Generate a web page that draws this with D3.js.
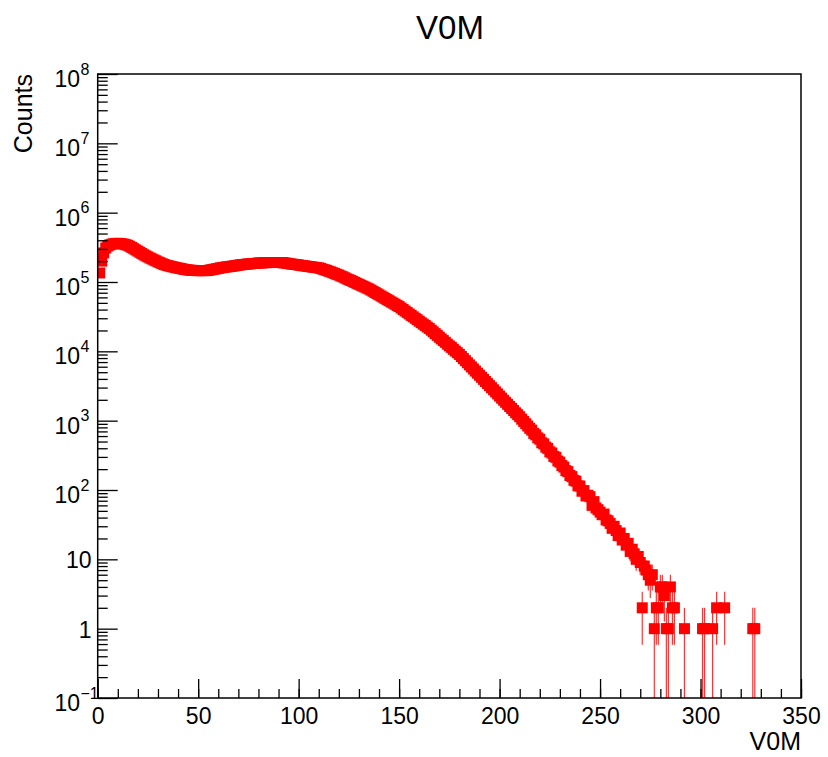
<!DOCTYPE html>
<html>
<head>
<meta charset="utf-8">
<script src="https://cdn.jsdelivr.net/npm/d3@7"></script>
<style>
  body { margin: 0; background: #fff; }
  svg { display: block; }
  text { font-family: "Liberation Sans", Arial, Helvetica, sans-serif; fill: #000; }
</style>
</head>
<body>
<div id="chart"></div>
<script>
// bin contents, one entry per unit bin, bins 0..99
const countsLow = [
  214000, 135000, 200000, 263000, 309000, 331000, 343000, 351000, 357000, 360000,
  361000, 360000, 356000, 352000, 345000, 339000, 327000, 315000, 302000, 290000,
  279000, 268000, 257000, 247000, 238000, 230000, 222000, 215000, 208000, 202000,
  195000, 190000, 184000, 179000, 175000, 172000, 169000, 166000, 164000, 161000,
  159000, 157000, 155000, 152000, 151000, 149000, 148000, 147000, 147000, 146000,
  146000, 146000, 146000, 146000, 146000, 147000, 149000, 151000, 153000, 155000,
  157000, 160000, 161000, 163000, 165000, 166000, 168000, 169000, 171000, 173000,
  175000, 177000, 178000, 179000, 181000, 182000, 183000, 185000, 185000, 186000,
  188000, 188000, 189000, 190000, 190000, 191000, 191000, 191000, 191000, 191000,
  191000, 191000, 190000, 188000, 187000, 185000, 182000, 181000, 179000, 178000
];
// bins 100..199
const countsMid = [
  176000, 174000, 172000, 171000, 169000, 167000, 166000, 164000, 163000, 161000,
  160000, 157000, 153000, 150000, 147000, 143000, 140000, 136000, 133000, 129000,
  126000, 122000, 119000, 115000, 111000, 108000, 105000, 102000, 98600, 95500,
  92700, 89900, 87100, 84500, 81800, 79400, 76400, 73500, 70600, 67900,
  65300, 62800, 60400, 58100, 55800, 53700, 51600, 49700, 47800, 45900,
  44200, 42100, 40100, 38200, 36400, 34700, 33000, 31500, 30000, 28600,
  27200, 25900, 24700, 23600, 22400, 21400, 20200, 19100, 18000, 17000,
  16000, 15100, 14300, 13500, 12700, 12000, 11400, 10700, 10100, 9550,
  9020, 8410, 7850, 7330, 6840, 6380, 5960, 5560, 5190, 4840,
  4520, 4220, 3940, 3670, 3430, 3200, 2990, 2790, 2600, 2430
];
// bins 200..270
const countsHigh = [
  2260, 2110, 1970, 1840, 1720, 1600, 1500, 1400, 1300, 1220,
  1140, 1050, 975, 904, 838, 776, 730, 655, 625, 565,
  540, 480, 462, 415, 398, 355, 342, 305, 296, 262,
  252, 225, 214, 190, 184, 162, 156, 138, 134, 115,
  114, 96, 98, 82, 84, 80, 60, 68, 55, 52,
  48, 44, 45, 37, 36, 33, 28, 30, 26, 22,
  24, 19, 20, 16, 17, 13, 14, 12, 10, 11,
  9
];
// sparse tail, non-empty bins only
const tailBins   = [271, 272, 273, 274, 275, 276, 277, 278, 279, 280, 281, 282, 283, 284, 285, 286, 287, 292, 301, 302, 306, 308, 312, 326, 327];
const tailCounts = [2,   8,   7,   6,   5,   6,   1,   2,   2,   4,   4,   3,   1,   1,   4,   2,   2,   1,   1,   1,   1,   2,   2,   1,   1];

const xMajorTicks = [0, 50, 100, 150, 200, 250, 300, 350];
const yDecades = [-1, 0, 1, 2, 3, 4, 5, 6, 7, 8];

const W = 828, H = 757;
const margin = { top: 74, right: 27, bottom: 59, left: 97.7 };
const markerSize = 11;

// build the histogram table
let data = [];
countsLow.forEach(function (c, i) { data.push({ bin: i, n: c }); });
countsMid.forEach(function (c, i) { data.push({ bin: 100 + i, n: c }); });
countsHigh.forEach(function (c, i) { data.push({ bin: 200 + i, n: c }); });
tailBins.forEach(function (b, i) { data.push({ bin: b, n: tailCounts[i] }); });

const svg = d3.select("#chart").append("svg")
  .attr("width", W).attr("height", H);

const x = d3.scaleLinear().domain([0, 350]).range([margin.left, W - margin.right]);
const y = d3.scaleLog().domain([0.1, 1e8]).range([H - margin.bottom, margin.top]);

svg.append("clipPath").attr("id", "plot")
  .append("rect")
  .attr("x", margin.left).attr("y", margin.top)
  .attr("width", x(350) - margin.left).attr("height", y(0.1) - margin.top);

const g = svg.append("g").attr("clip-path", "url(#plot)");

// error bars, sqrt(N)
g.selectAll(".err")
  .data(data)
  .enter()
  .append("line")
  .attr("x1", function (d) { return x(d.bin); })
  .attr("x2", function (d) { return x(d.bin); })
  .attr("y1", function (d) { return y(d.n + Math.sqrt(d.n)); })
  .attr("y2", function (d) {
    const lo = d.n - Math.sqrt(d.n);
    return lo > 0.1 ? y(lo) : y(0.1) + 2;
  })
  .attr("stroke", "#ff0000")
  .attr("stroke-opacity", 0.8)
  .attr("stroke-width", 1.2);

// square markers
g.selectAll(".mk")
  .data(data)
  .enter()
  .append("rect")
  .attr("x", function (d) { return x(d.bin) - markerSize / 2; })
  .attr("y", function (d) { return y(d.n) - markerSize / 2; })
  .attr("width", markerSize)
  .attr("height", markerSize)
  .attr("fill", "#ff0000");

// X axis ticks
const xMinor = d3.range(0, 351, 10);
svg.append("g")
  .attr("transform", "translate(0," + y(0.1) + ")")
  .call(d3.axisBottom(x).tickValues(xMinor).tickSize(-9).tickFormat(""))
  .call(function (s) { s.select(".domain").remove(); s.selectAll("line").attr("stroke-width", 1.3); });

svg.append("g")
  .attr("transform", "translate(0," + y(0.1) + ")")
  .call(d3.axisBottom(x).tickValues(xMajorTicks).tickSize(-19).tickPadding(10))
  .call(function (s) {
    s.select(".domain").remove();
    s.selectAll("line").attr("stroke-width", 1.3);
    s.selectAll("text")
      .style("font-size", "23px")
      .style("font-family", "'Liberation Sans', Arial, sans-serif");
  });

// Y axis ticks
let yMinor = [];
yDecades.slice(0, -1).forEach(function (p) {
  for (let k = 2; k <= 9; k++) yMinor.push(k * Math.pow(10, p));
});
svg.append("g")
  .attr("transform", "translate(" + margin.left + ",0)")
  .call(d3.axisLeft(y).tickValues(yMinor).tickSize(-10).tickFormat(""))
  .call(function (s) { s.select(".domain").remove(); s.selectAll("line").attr("stroke-width", 1.3); });

svg.append("g")
  .attr("transform", "translate(" + margin.left + ",0)")
  .call(d3.axisLeft(y).tickValues(yDecades.map(function (p) { return Math.pow(10, p); })).tickSize(-20).tickFormat(""))
  .call(function (s) { s.select(".domain").remove(); s.selectAll("line").attr("stroke-width", 1.3); });

// Y labels
yDecades.forEach(function (p) {
  const yy = y(Math.pow(10, p));
  if (p === 0 || p === 1) {
    svg.append("text")
      .attr("x", 91.5).attr("y", yy + 9)
      .attr("text-anchor", "end")
      .style("font-size", "23px")
      .text(p === 0 ? "1" : "10");
  } else {
    svg.append("text")
      .attr("x", 80).attr("y", yy + 13)
      .attr("text-anchor", "end")
      .style("font-size", "23px")
      .text("10");
    svg.append("text")
      .attr("x", 80.5).attr("y", yy + 0.5)
      .attr("text-anchor", "start")
      .style("font-size", "16px")
      .text(p < 0 ? "\u2212" + Math.abs(p) : String(p));
  }
});

// frame
svg.append("rect")
  .attr("x", margin.left).attr("y", margin.top)
  .attr("width", x(350) - margin.left).attr("height", y(0.1) - margin.top)
  .attr("fill", "none")
  .attr("stroke", "#000")
  .attr("stroke-width", 1.5);

// titles
svg.append("text")
  .attr("x", 450).attr("y", 39)
  .attr("text-anchor", "middle")
  .style("font-size", "33px")
  .text("V0M");

svg.append("text")
  .attr("x", x(350)).attr("y", 750)
  .attr("text-anchor", "end")
  .style("font-size", "25px")
  .text("V0M");

svg.append("text")
  .attr("transform", "translate(32," + margin.top + ") rotate(-90)")
  .attr("text-anchor", "end")
  .style("font-size", "25px")
  .text("Counts");
</script>
</body>
</html>
